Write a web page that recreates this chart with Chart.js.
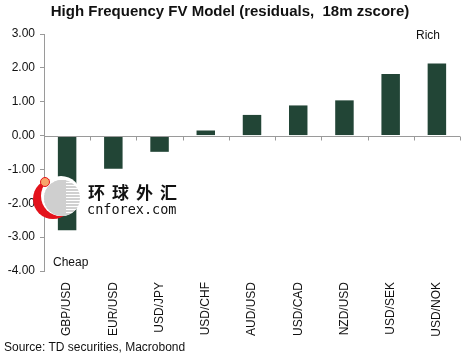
<!DOCTYPE html>
<html>
<head>
<meta charset="utf-8">
<script src="https://cdn.jsdelivr.net/npm/chart.js@4"></script>
<style>
  html, body { margin: 0; padding: 0; background: #fff; }
  #wrap { position: relative; width: 470px; height: 357px; overflow: hidden; }
  canvas { position: absolute; left: 0; top: 0; }
  .lbl { position: absolute; font-family: "Liberation Sans", Arial, sans-serif; font-size: 12px; color: #111; white-space: nowrap; }
  #wm-cn { position: absolute; left: 88px; top: 179px; font-family: "Noto Sans CJK SC", sans-serif; font-size: 17px; letter-spacing: 7px; color: #111; font-weight: 700; }
  #wm-en { position: absolute; left: 87px; top: 201px; font-family: "DejaVu Sans Mono", monospace; font-size: 13.5px; color: #111; }
  #logo-red { position: absolute; left: 33px; top: 179px; width: 40px; height: 40px; border-radius: 50%; background: #e3121b; }
  #logo-cut { position: absolute; left: 41px; top: 176px; width: 40px; height: 40px; border-radius: 50%; background: #fff; }
  #logo-gray { position: absolute; left: 44px; top: 180px; width: 36px; height: 36px; border-radius: 50%;
    background: repeating-linear-gradient(180deg, #d0d0d0 0px, #d0d0d0 2px, #fff 2px, #fff 3px); }
  #logo-gray2 { position: absolute; left: 44px; top: 180px; width: 22px; height: 36px; border-radius: 18px 0 0 18px; background: #cfcfcf; }
  #logo-dot { position: absolute; left: 40px; top: 177px; width: 8px; height: 8px; border-radius: 50%; background: #f7a46a; border: 1px solid #e3121b; }
</style>
</head>
<body>
<div id="wrap">
  <canvas id="c" width="470" height="357"></canvas>
  <div class="lbl" style="left:416px; top:28px;">Rich</div>
  <div class="lbl" style="left:53px; top:255px;">Cheap</div>
  <div class="lbl" style="left:4px; top:340px;">Source: TD securities, Macrobond</div>
  <div id="logo-red"></div>
  <div id="logo-cut"></div>
  <div id="logo-gray"></div>
  <div id="logo-gray2"></div>
  <div id="logo-dot"></div>
  <div id="wm-cn">环球外汇</div>
  <div id="wm-en">cnforex.com</div>
</div>
<script>
const categories = ["GBP/USD", "EUR/USD", "USD/JPY", "USD/CHF", "AUD/USD", "USD/CAD", "NZD/USD", "USD/SEK", "USD/NOK"];
const residuals = [-2.80, -0.98, -0.48, 0.15, 0.61, 0.89, 1.04, 1.82, 2.13];
const yTicks = [3, 2, 1, 0, -1, -2, -3, -4];

const zeroTicks = {
  id: 'zeroTicks',
  afterDatasetsDraw(chart) {
    const x = chart.scales.x, y = chart.scales.y, ctx = chart.ctx;
    const y0 = Math.round(y.getPixelForValue(0)) + 0.5;
    ctx.save();
    ctx.strokeStyle = '#9a9a9a';
    ctx.lineWidth = 1;
    ctx.beginPath();
    ctx.moveTo(chart.chartArea.left, y0);
    ctx.lineTo(chart.chartArea.right, y0);
    const half = (x.getPixelForValue(1) - x.getPixelForValue(0)) / 2;
    for (let i = 0; i < categories.length; i++) {
      const px = Math.round(x.getPixelForValue(i) + half) + 0.5;
      ctx.moveTo(px, y0);
      ctx.lineTo(px, y0 + 4);
    }
    ctx.stroke();
    ctx.restore();
  }
};

new Chart(document.getElementById('c'), {
  type: 'bar',
  data: {
    labels: categories,
    datasets: [{
      data: residuals,
      backgroundColor: '#224536',
      borderWidth: 0,
      barPercentage: 0.4,
      categoryPercentage: 1.0
    }]
  },
  options: {
    responsive: false,
    animation: false,
    devicePixelRatio: 1,
    layout: { padding: { left: 0, right: 10, top: 0, bottom: 0 } },
    plugins: {
      legend: { display: false },
      tooltip: { enabled: false },
      title: {
        display: true,
        text: 'High Frequency FV Model (residuals,  18m zscore)',
        color: '#111',
        font: { family: '"Liberation Sans", Arial, sans-serif', size: 15, weight: 'bold' },
        padding: { top: 3, bottom: 13 }
      }
    },
    scales: {
      x: {
        grid: { display: false },
        border: { display: false },
        ticks: {
          autoSkip: false,
          minRotation: 90,
          maxRotation: 90,
          padding: 3,
          color: '#111',
          font: { family: '"Liberation Sans", Arial, sans-serif', size: 12 }
        },
        afterFit(scale) { scale.height = 86; }
      },
      y: {
        min: -4,
        max: 3,
        afterBuildTicks(scale) { scale.ticks = yTicks.map(v => ({ value: v })); },
        grid: { drawOnChartArea: false, drawTicks: true, tickLength: 4, color: '#9a9a9a' },
        border: { display: true, color: '#9a9a9a' },
        ticks: {
          padding: 5,
          color: '#111',
          font: { family: '"Liberation Sans", Arial, sans-serif', size: 12 },
          callback: v => Number(v).toFixed(2)
        },
        afterFit(scale) { scale.width = 44; }
      }
    }
  },
  plugins: [zeroTicks]
});
</script>
</body>
</html>
